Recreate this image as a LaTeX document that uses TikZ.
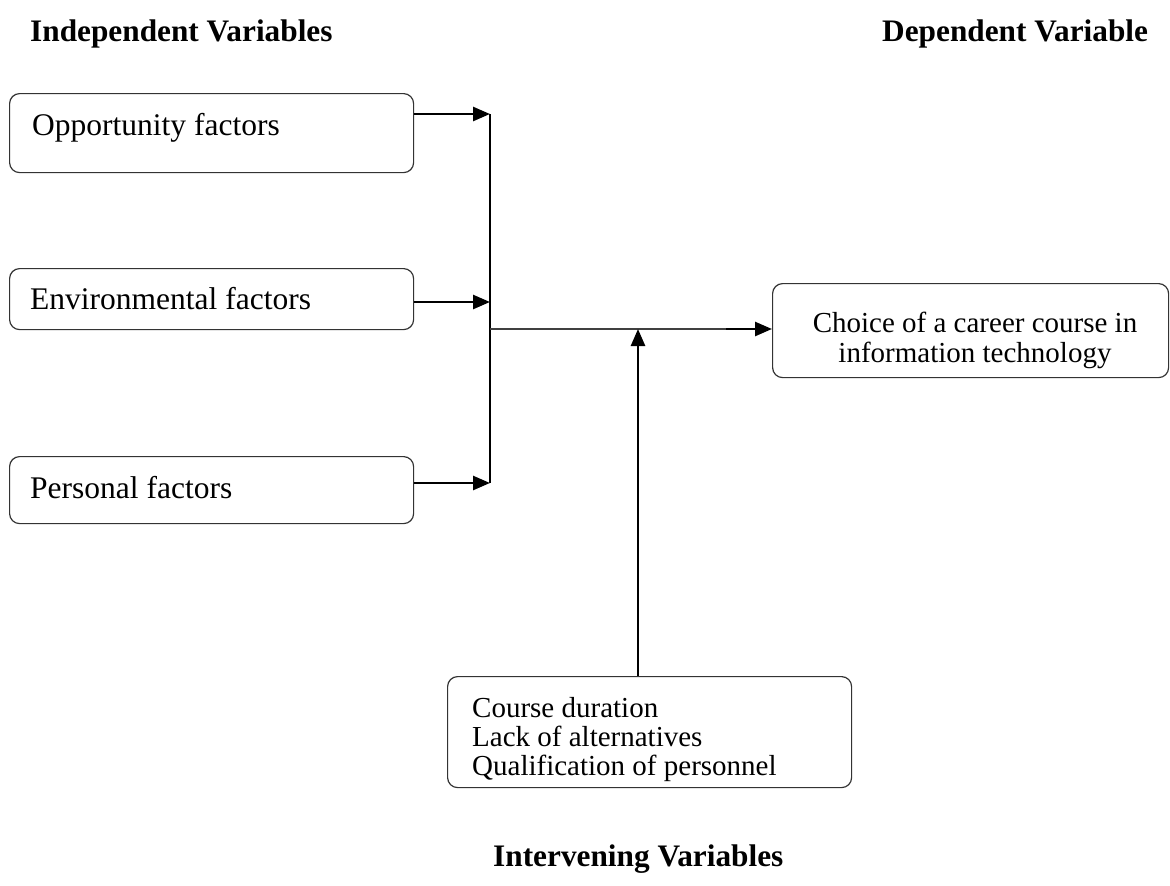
\documentclass[tikz,border=0pt]{standalone}
\usepackage{fontspec}
\setmainfont{Liberation Serif}
\usetikzlibrary{arrows.meta,calc}
\begin{document}
\begin{tikzpicture}[x=1pt,y=-1pt,
  box/.style={draw=black!80,line width=1.2pt,rounded corners=10pt,inner sep=0pt,anchor=north west},
  lbl/.style={inner sep=0pt,anchor=base west,font=\fontsize{31.5}{36}\selectfont},
  rlbl/.style={inner sep=0pt,font=\fontsize{29}{30}\selectfont},
  blbl/.style={inner sep=0pt,font=\fontsize{29}{29}\selectfont},
  head/.style={inner sep=0pt,anchor=base west,font=\fontsize{31.3}{36}\selectfont\bfseries},
  arr/.style={line width=2.6pt,-{Triangle[length=17pt,width=14pt]}},
  thin/.style={line width=1.3pt,draw=black!75}]
\useasboundingbox (0,0) rectangle (1170,886);
% headers
\node[head] (hind) at (30,41) {Independent Variables};
\node[head] (hdep) at (882,41) {Dependent Variable};
\node[head] (hint) at (493,866) {Intervening Variables};
% left boxes
\node[box,minimum width=404pt,minimum height=79pt] (opp) at (9,93) {};
\node[lbl] (topp) at (32,135) {Opportunity factors};
\node[box,minimum width=404pt,minimum height=61pt] (env) at (9,268) {};
\node[lbl] (tenv) at (30,309) {Environmental factors};
\node[box,minimum width=404pt,minimum height=67pt] (per) at (9,456) {};
\node[lbl] (tper) at (30,498) {Personal factors};
% right box
\node[box,minimum width=396pt,minimum height=94pt] (dep) at (772,283) {};
\node[rlbl,align=center,anchor=north] (tdep) at (975,312) {Choice of a career course in\\information technology};
% bottom box
\node[box,minimum width=404pt,minimum height=111pt] (intv) at (447,676) {};
\node[blbl,align=left,anchor=north west] (tint) at (472,697) {Course duration\\Lack of alternatives\\Qualification of personnel};
% junction coordinates
\coordinate (j1) at (490,114);
\coordinate (j2) at (490,302);
\coordinate (j3) at (490,483);
\coordinate (jm) at (490,329);
\coordinate (jx) at (638,329);
\coordinate (ja) at (726,329);
% connectors
\draw[arr] (opp.east |- j1) -- (j1);
\draw[arr] (env.east |- j2) -- (j2);
\draw[arr] (per.east |- j3) -- (j3);
\draw[line width=2.2pt] (j1) -- (j3);
\draw[thin] (jm) -- (ja);
\draw[arr] (ja) -- (dep.west |- ja);
\draw[arr] (intv.north -| jx) -- (jx);
\end{tikzpicture}
\end{document}
